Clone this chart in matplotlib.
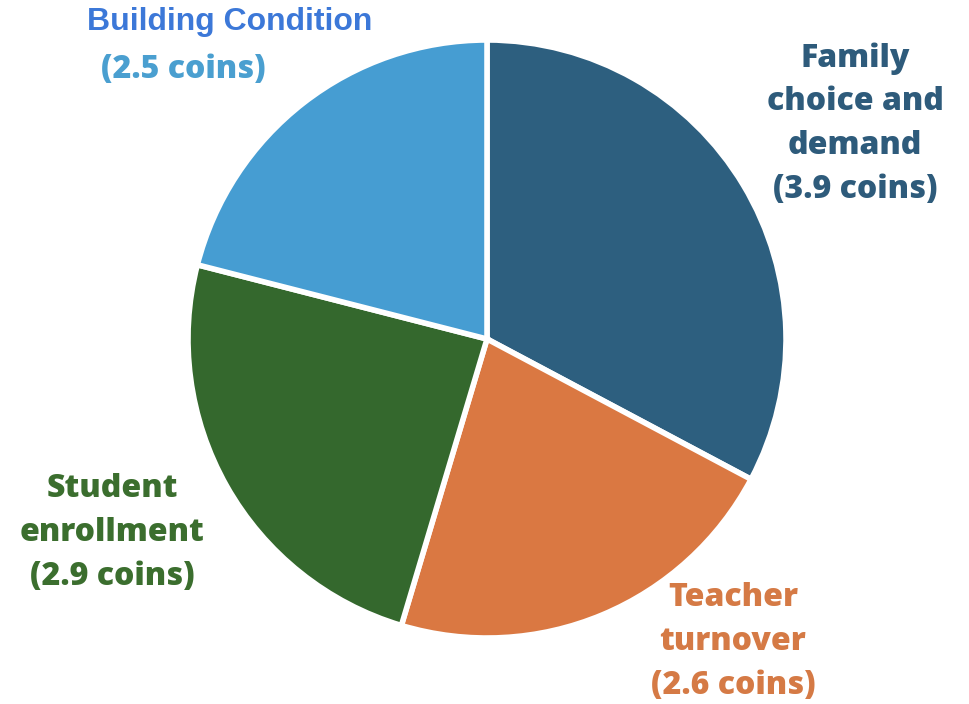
import matplotlib
matplotlib.use("Agg")
import matplotlib.pyplot as plt

categories = ["Family choice and demand", "Teacher turnover", "Student enrollment", "Building Condition"]
values = [3.9, 2.6, 2.9, 2.5]
label_texts = ["Family\nchoice and\ndemand\n(3.9 coins)",
               "Teacher\nturnover\n(2.6 coins)",
               "Student\nenrollment\n(2.9 coins)",
               "(2.5 coins)"]
colors = ["#2D5F7F", "#DA7842", "#34682D", "#469DD2"]
text_colors = ["#2E5B7B", "#D57A45", "#3B6E2E", "#4A9FD0"]

W, H = 969, 704
fig = plt.figure(figsize=(W / 100, H / 100), dpi=100)
ax = fig.add_axes([0, 0, 1, 1])

cx, cy, r = 487, H - 339, 299
ax.pie(values, colors=colors, startangle=90, counterclock=False,
       center=(cx, cy), radius=r, frame=True,
       wedgeprops=dict(edgecolor="white", linewidth=4))
ax.set_xlim(0, W)
ax.set_ylim(0, H)
ax.set_aspect("equal")
ax.axis("off")

font = dict(family=["Open Sans", "DejaVu Sans"], fontweight=800, fontsize=23,
            ha="center", va="center", linespacing=1.49)
positions = [(855, H - 124), (733, H - 642), (112, H - 533), (183, H - 70)]
for txt, (x, y), c in zip(label_texts, positions, text_colors):
    ax.text(x, y, txt, color=c, **font)

ax.text(230, H - 22, "Building Condition", color="#3C78D8",
        family=["Liberation Sans", "DejaVu Sans"], fontweight="bold", fontsize=23,
        ha="center", va="center")

fig.savefig("out.png", dpi=100)
